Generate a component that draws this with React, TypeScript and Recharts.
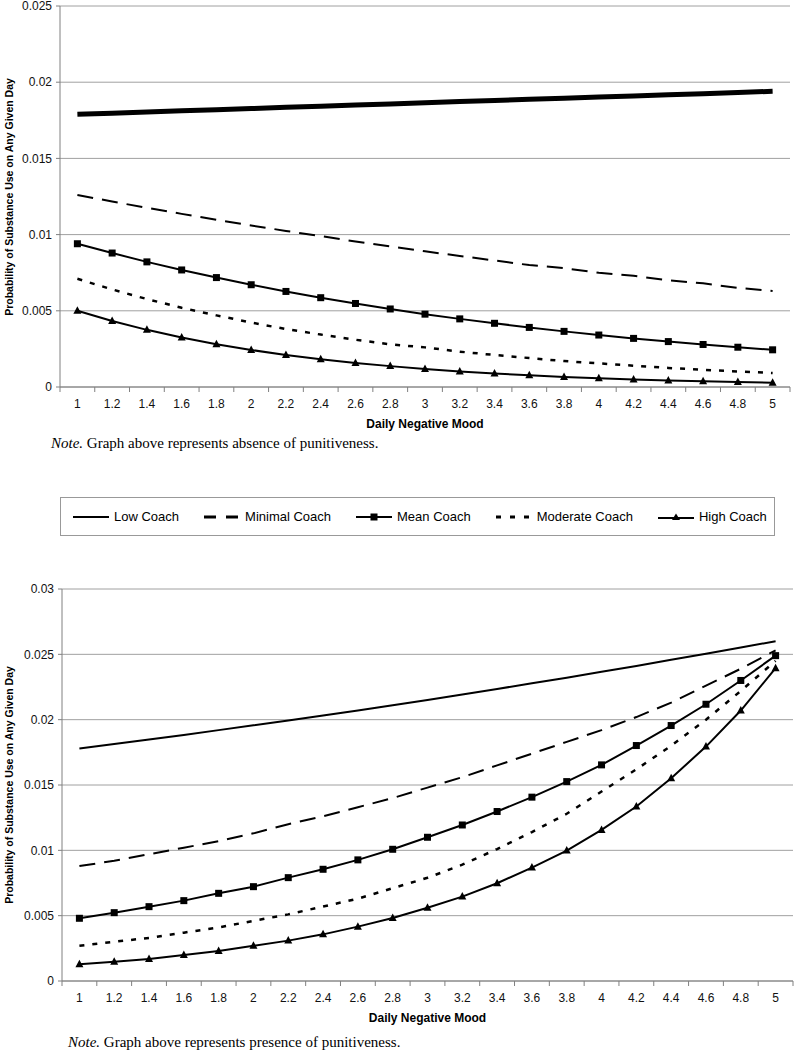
import { LineChart, Line, XAxis, YAxis, CartesianGrid } from 'recharts';

const SANS = '"Liberation Sans", Arial, sans-serif';
const SERIF = '"Liberation Serif", "Times New Roman", serif';

const moodLevels = [1, 1.2, 1.4, 1.6, 1.8, 2, 2.2, 2.4, 2.6, 2.8, 3, 3.2, 3.4, 3.6, 3.8, 4, 4.2, 4.4, 4.6, 4.8, 5];

// absence of punitiveness
const lowAbsent = [0.0179, 0.01797, 0.01805, 0.01812, 0.0182, 0.01827, 0.01835, 0.01842, 0.0185, 0.01857, 0.01865, 0.01873, 0.0188, 0.01888, 0.01895, 0.01903, 0.0191, 0.01918, 0.01925, 0.01933, 0.0194];
const minimalAbsent = [0.0126, 0.01217, 0.01176, 0.01136, 0.01097, 0.0106, 0.01024, 0.0099, 0.00955, 0.00923, 0.0089, 0.0086, 0.0083, 0.008, 0.0078, 0.0075, 0.0073, 0.007, 0.0068, 0.0065, 0.0063];
const meanAbsent = [0.0094, 0.00879, 0.00821, 0.00768, 0.00718, 0.00671, 0.00627, 0.00586, 0.00548, 0.00512, 0.00478, 0.00447, 0.00418, 0.00391, 0.00365, 0.00341, 0.00319, 0.00298, 0.00279, 0.00261, 0.00244];
const moderateAbsent = [0.0071, 0.0064, 0.00577, 0.0052, 0.0047, 0.00423, 0.0038, 0.00344, 0.0031, 0.0028, 0.0026, 0.00232, 0.0021, 0.0019, 0.0017, 0.00155, 0.0014, 0.00125, 0.00113, 0.00102, 0.00092];
const highAbsent = [0.005, 0.00433, 0.00375, 0.00325, 0.00281, 0.00243, 0.0021, 0.00182, 0.00158, 0.00137, 0.00118, 0.00102, 0.00089, 0.00077, 0.00066, 0.00057, 0.0005, 0.00043, 0.00037, 0.00032, 0.00028];

// presence of punitiveness
const lowPresent = [0.0178, 0.01813, 0.01848, 0.01883, 0.0192, 0.01957, 0.01994, 0.02032, 0.02071, 0.02111, 0.02151, 0.02193, 0.02235, 0.02278, 0.02321, 0.02366, 0.02411, 0.02458, 0.02505, 0.02553, 0.026];
const minimalPresent = [0.0088, 0.0092, 0.0097, 0.0102, 0.0107, 0.0113, 0.012, 0.0126, 0.0133, 0.014, 0.0148, 0.0156, 0.0165, 0.0174, 0.0183, 0.0192, 0.0202, 0.0213, 0.0226, 0.0239, 0.0253];
const meanPresent = [0.0048, 0.00523, 0.00569, 0.00615, 0.00671, 0.00722, 0.00791, 0.00855, 0.00927, 0.01008, 0.011, 0.01194, 0.01297, 0.01407, 0.01526, 0.01654, 0.01802, 0.01955, 0.02118, 0.023, 0.0249];
const moderatePresent = [0.0027, 0.003, 0.0033, 0.0037, 0.0041, 0.0046, 0.0051, 0.0057, 0.0063, 0.0071, 0.0079, 0.0089, 0.0101, 0.0114, 0.0128, 0.0145, 0.0162, 0.018, 0.02, 0.0222, 0.0245];
const highPresent = [0.00128, 0.00148, 0.00168, 0.00199, 0.0023, 0.0027, 0.00309, 0.00357, 0.00416, 0.00482, 0.00561, 0.00646, 0.00748, 0.00868, 0.00998, 0.01156, 0.01335, 0.01552, 0.01794, 0.0207, 0.02394];

const yTicksAbsent = [0, 0.005, 0.01, 0.015, 0.02, 0.025];
const yTicksPresent = [0, 0.005, 0.01, 0.015, 0.02, 0.025, 0.03];

const seriesNames = ['Low Coach', 'Minimal Coach', 'Mean Coach', 'Moderate Coach', 'High Coach'];
const seriesKeys = ['low', 'minimal', 'mean', 'moderate', 'high'];

// category boundaries (Excel-style tick marks between categories)
const boundaries = [...moodLevels.map((m) => Math.round((m - 0.1) * 10) / 10), 5.1];
const xTicks = [...boundaries, ...moodLevels].sort((a, b) => a - b);

const TICK_SIZE = 5;
const TICK_MARGIN = 6;
const AXIS = '#808080';
const GRID = '#a0a0a0';

function buildRows(cols: number[][]) {
  return moodLevels.map((mood, i) => {
    const row: Record<string, number> = { mood };
    seriesKeys.forEach((k, j) => {
      row[k] = cols[j][i];
    });
    return row;
  });
}

const absentRows = buildRows([lowAbsent, minimalAbsent, meanAbsent, moderateAbsent, highAbsent]);
const presentRows = buildRows([lowPresent, minimalPresent, meanPresent, moderatePresent, highPresent]);

function MoodTick(props: any) {
  const { x, y, payload } = props;
  const v = payload.value;
  if (moodLevels.includes(v)) {
    return (
      <text x={x} y={y} dy="0.8em" textAnchor="middle" fontSize={12} fontFamily={SANS} fill="#111">
        {String(v)}
      </text>
    );
  }
  return <line x1={x} x2={x} y1={y - TICK_SIZE - TICK_MARGIN} y2={y - TICK_MARGIN} stroke={AXIS} />;
}

const squareDot = (props: any) => {
  const { cx, cy, index } = props;
  if (cx == null || cy == null) return <g key={index} />;
  return <rect key={index} x={cx - 3.5} y={cy - 3.5} width={7} height={7} fill="#000" />;
};

const triangleDot = (props: any) => {
  const { cx, cy, index } = props;
  if (cx == null || cy == null) return <g key={index} />;
  return <polygon key={index} points={`${cx},${cy - 4.5} ${cx + 4},${cy + 3} ${cx - 4},${cy + 3}`} fill="#000" />;
};

function CoachChart({ rows, yMax, yTicks, lowWidth, leftWidth, rightMargin, topMargin, height }: any) {
  return (
    <LineChart
      width={795}
      height={height}
      data={rows}
      margin={{ top: topMargin, right: rightMargin, left: 0, bottom: 0 }}
    >
      <CartesianGrid horizontal vertical={false} stroke={GRID} />
      <XAxis
        dataKey="mood"
        type="number"
        domain={[0.9, 5.1]}
        ticks={xTicks}
        interval={0}
        tick={<MoodTick />}
        tickLine={false}
        tickSize={TICK_SIZE}
        tickMargin={TICK_MARGIN}
        axisLine={{ stroke: AXIS }}
        height={28}
      />
      <YAxis
        type="number"
        domain={[0, yMax]}
        ticks={yTicks}
        interval={0}
        width={leftWidth}
        tickSize={4}
        tickMargin={4}
        tickFormatter={(v: number) => String(v)}
        tick={{ fill: '#111', fontSize: 12, fontFamily: SANS }}
        axisLine={{ stroke: AXIS }}
        tickLine={{ stroke: AXIS }}
      />
      <YAxis
        yAxisId="frame"
        orientation="right"
        domain={[0, 1]}
        width={0}
        tick={false}
        tickLine={false}
        axisLine={{ stroke: GRID }}
      />
      <Line dataKey="low" name={seriesNames[0]} stroke="#000" strokeWidth={lowWidth} dot={false} activeDot={false} isAnimationActive={false} />
      <Line dataKey="minimal" name={seriesNames[1]} stroke="#000" strokeWidth={2} strokeDasharray="16 9" dot={false} activeDot={false} isAnimationActive={false} />
      <Line dataKey="mean" name={seriesNames[2]} stroke="#000" strokeWidth={2} dot={squareDot} activeDot={false} isAnimationActive={false} />
      <Line dataKey="moderate" name={seriesNames[3]} stroke="#000" strokeWidth={2.5} strokeDasharray="5 8" dot={false} activeDot={false} isAnimationActive={false} />
      <Line dataKey="high" name={seriesNames[4]} stroke="#000" strokeWidth={2} dot={triangleDot} activeDot={false} isAnimationActive={false} />
    </LineChart>
  );
}

function LegendIcon({ idx }: { idx: number }) {
  return (
    <svg width={36} height={10} style={{ display: 'block' }}>
      {idx === 0 && <line x1={0} x2={36} y1={5} y2={5} stroke="#000" strokeWidth={2} />}
      {idx === 1 && <line x1={0} x2={36} y1={5} y2={5} stroke="#000" strokeWidth={3} strokeDasharray="12 10" />}
      {idx === 2 && (
        <g>
          <line x1={0} x2={36} y1={5} y2={5} stroke="#000" strokeWidth={2} />
          <rect x={14.5} y={1.5} width={7} height={7} fill="#000" />
        </g>
      )}
      {idx === 3 && <line x1={0} x2={34} y1={5} y2={5} stroke="#000" strokeWidth={3} strokeDasharray="5 9" />}
      {idx === 4 && (
        <g>
          <line x1={0} x2={38} y1={6} y2={6} stroke="#000" strokeWidth={2} />
          <polygon points="18,1.5 22,8 14,8" fill="#000" />
        </g>
      )}
    </svg>
  );
}

function Note({ text, left, top }: { text: string; left: number; top: number }) {
  return (
    <div style={{ position: 'absolute', left, top, fontFamily: SERIF, fontSize: 15, lineHeight: '18px', whiteSpace: 'nowrap', color: '#000' }}>
      <i>Note.</i> {text}
    </div>
  );
}

function AxisTitles({ plotLeft, plotRight, plotTop, plotBottom, titleTop }: any) {
  return (
    <>
      <div
        style={{
          position: 'absolute',
          left: 9,
          top: (plotTop + plotBottom) / 2,
          transform: 'translate(-50%, -50%) rotate(-90deg)',
          whiteSpace: 'nowrap',
          fontFamily: SANS,
          fontWeight: 'bold',
          fontSize: 10.5,
          color: '#000',
        }}
      >
        Probability of Substance Use on Any Given Day
      </div>
      <div
        style={{
          position: 'absolute',
          left: (plotLeft + plotRight) / 2,
          top: titleTop,
          transform: 'translateX(-50%)',
          whiteSpace: 'nowrap',
          fontFamily: SANS,
          fontWeight: 'bold',
          fontSize: 12,
          color: '#000',
        }}
      >
        Daily Negative Mood
      </div>
    </>
  );
}

export default function App() {
  return (
    <div style={{ position: 'absolute', left: 0, top: 0, width: 795, height: 1050, background: '#fff', overflow: 'hidden' }}>
      <div style={{ position: 'absolute', left: 0, top: 0 }}>
        <CoachChart rows={absentRows} yMax={0.025} yTicks={yTicksAbsent} lowWidth={5} leftWidth={60} rightMargin={5} topMargin={6} height={415} />
      </div>
      <AxisTitles plotLeft={60} plotRight={790} plotTop={6} plotBottom={387} titleTop={417} />
      <Note text="Graph above represents absence of punitiveness." left={51} top={434} />

      <div
        style={{
          position: 'absolute',
          left: 60,
          top: 497,
          width: 715,
          height: 39,
          boxSizing: 'border-box',
          border: '1px solid #999',
          display: 'flex',
          alignItems: 'center',
          paddingLeft: 12,
          fontFamily: SANS,
          fontSize: 13,
          color: '#000',
        }}
      >
        {seriesNames.map((name, i) => (
          <div key={name} style={{ display: 'flex', alignItems: 'center', marginRight: 25 }}>
            <LegendIcon idx={i} />
            <span style={{ marginLeft: 5, whiteSpace: 'nowrap' }}>{name}</span>
          </div>
        ))}
      </div>

      <div style={{ position: 'absolute', left: 0, top: 575 }}>
        <CoachChart rows={presentRows} yMax={0.03} yTicks={yTicksPresent} lowWidth={2} leftWidth={62} rightMargin={2} topMargin={14} height={434} />
      </div>
      <AxisTitles plotLeft={62} plotRight={793} plotTop={589} plotBottom={981} titleTop={1011} />
      <Note text="Graph above represents presence of punitiveness." left={68} top={1033} />
    </div>
  );
}
